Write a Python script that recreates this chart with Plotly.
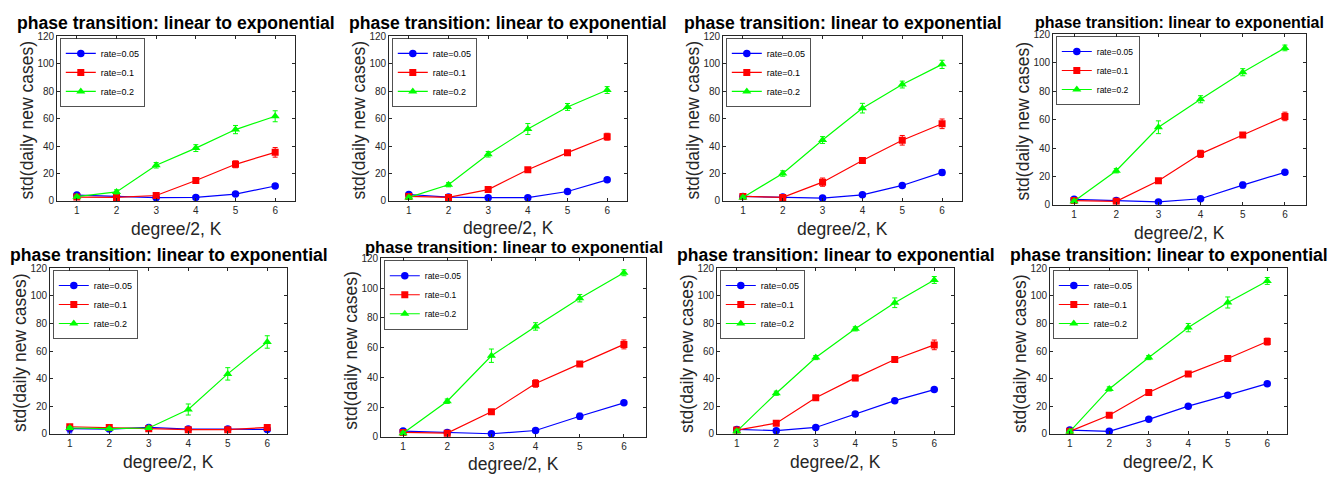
import plotly.graph_objects as go

# ---- data ----
K = [1, 2, 3, 4, 5, 6]
rate_labels = ["rate=0.05", "rate=0.1", "rate=0.2"]
title_text = "phase transition: linear to exponential"
xlabel = "degree/2, K"
ylabel = "std(daily new cases)"
y_ticks = [0, 20, 40, 60, 80, 100, 120]

# std values per panel (8 panels, row-major)
std_rate005 = [
    [4.3, 3.3, 2.4, 2.6, 5.0, 10.9],
    [4.7, 2.8, 2.4, 2.4, 6.9, 15.4],
    [3.3, 2.8, 2.1, 4.5, 11.3, 20.8],
    [3.9, 3.0, 2.1, 4.3, 13.9, 22.9],
    [3.8, 3.5, 4.7, 3.5, 3.5, 3.3],
    [3.9, 3.0, 2.1, 4.3, 13.9, 22.9],
    [3.3, 2.4, 4.7, 14.4, 24.1, 32.1],
    [2.8, 1.9, 10.6, 20.1, 28.1, 36.4],
]
std_rate01 = [
    [2.8, 2.6, 4.0, 14.9, 26.7, 35.4],
    [3.3, 2.6, 8.3, 22.7, 35.2, 46.8],
    [3.3, 2.6, 13.7, 29.5, 44.2, 56.2],
    [3.0, 2.5, 16.9, 35.9, 49.1, 62.2],
    [5.2, 4.7, 3.8, 3.1, 3.1, 4.7],
    [3.0, 2.5, 16.9, 35.9, 49.1, 62.2],
    [2.8, 7.8, 26.2, 40.6, 53.9, 64.5],
    [1.9, 13.5, 30.0, 43.5, 54.6, 66.9],
]
std_rate02 = [
    [3.1, 6.6, 26.0, 38.5, 52.0, 61.7],
    [2.6, 11.8, 34.0, 52.4, 68.5, 80.8],
    [2.6, 20.0, 44.4, 67.6, 84.8, 99.5],
    [2.5, 24.0, 54.6, 74.3, 93.3, 110.4],
    [4.3, 3.8, 4.3, 17.7, 43.5, 66.6],
    [2.5, 24.0, 54.6, 74.3, 93.3, 110.4],
    [1.9, 29.5, 55.3, 76.1, 95.0, 111.5],
    [1.7, 32.6, 55.3, 77.0, 95.2, 110.8],
]
err_rate005 = [
    [1.0, 0.8, 0.5, 0.5, 1.0, 1.5],
    [0.8, 0.5, 0.5, 0.5, 1.0, 1.5],
    [0.8, 0.5, 0.5, 1.0, 1.0, 2.0],
    [0.8, 0.5, 0.5, 1.0, 2.0, 1.0],
    [3.0, 0.8, 0.8, 0.8, 0.8, 1.0],
    [0.8, 0.5, 0.5, 1.0, 2.0, 1.0],
    [0.8, 0.5, 0.8, 1.0, 1.0, 1.0],
    [0.8, 0.5, 1.0, 1.0, 1.0, 1.0],
]
err_rate01 = [
    [0.8, 0.8, 1.0, 1.5, 2.5, 3.5],
    [0.8, 0.8, 1.0, 1.5, 1.5, 2.5],
    [0.8, 0.8, 3.0, 2.0, 3.5, 3.5],
    [0.8, 0.8, 1.5, 2.5, 1.5, 3.0],
    [1.0, 0.8, 0.8, 0.8, 0.8, 1.0],
    [0.8, 0.8, 1.5, 2.5, 1.5, 3.0],
    [0.8, 1.0, 1.5, 2.0, 2.0, 3.5],
    [0.8, 1.0, 1.0, 1.5, 1.0, 2.5],
]
err_rate02 = [
    [1.0, 1.5, 2.0, 2.5, 3.0, 4.0],
    [1.0, 1.5, 2.0, 4.0, 2.5, 2.5],
    [1.0, 2.0, 2.5, 3.5, 2.5, 3.0],
    [1.0, 1.5, 4.5, 2.5, 2.5, 2.0],
    [1.0, 0.8, 1.0, 4.0, 4.5, 4.5],
    [1.0, 1.5, 4.5, 2.5, 2.5, 2.0],
    [1.0, 1.5, 1.5, 1.5, 3.5, 2.5],
    [1.0, 1.5, 1.5, 3.0, 4.0, 2.5],
]

# ---- layout geometry (pixels) ----
W, H = 1332, 477
# left, right, top, bottom of each plot box
boxes = [
    (57, 295, 31, 200), (389, 627, 31, 200), (723, 962, 31, 200), (1053, 1306, 29, 204),
    (50, 287, 269, 439), (381, 646, 259, 442), (717, 954, 269, 439), (1050, 1287, 269, 439),
]
title_y = [17.5, 17.5, 17.5, 17, 255, 247.5, 255, 255]
title_size = [17.6, 17.6, 17.6, 16.0, 17.6, 16.5, 17.6, 17.6]
xlabel_gap = [29, 28, 29, 29, 29, 28, 29, 29]
legend_font = [9, 9, 9, 8.5, 9, 8.5, 9, 9]

colors = ["#0000FF", "#FF0000", "#00FF00"]
symbols = ["circle", "square", "triangle-up"]
msize = [7.5, 7, 8]
AX = "#262626"
FONT = "Liberation Sans, Arial, sans-serif"

def px(x):
    return x / W

def py(y):
    return 1 - y / H

fig = go.Figure()
annotations = []
layout = dict(
    width=W, height=H, margin=dict(l=0, r=0, t=0, b=0),
    paper_bgcolor="white", plot_bgcolor="white",
    font=dict(family=FONT, color=AX),
    showlegend=True,
)

series_sets = [(std_rate005, err_rate005), (std_rate01, err_rate01), (std_rate02, err_rate02)]

for i, (L, R, T, B) in enumerate(boxes):
    n = i + 1
    xa = "x" if n == 1 else f"x{n}"
    ya = "y" if n == 1 else f"y{n}"
    lg = "legend" if n == 1 else f"legend{n}"
    for s, (vals, errs) in enumerate(series_sets):
        fig.add_trace(go.Scatter(
            x=K, y=vals[i], xaxis=xa, yaxis=ya, legend=lg,
            name=rate_labels[s], mode="lines+markers",
            line=dict(color=colors[s], width=1.2),
            marker=dict(symbol=symbols[s], size=msize[s], color=colors[s],
                        line=dict(width=0)),
            error_y=dict(type="data", array=errs[i], color=colors[s],
                         thickness=1, width=2.5),
            showlegend=True,
        ))
    axkey = "xaxis" if n == 1 else f"xaxis{n}"
    aykey = "yaxis" if n == 1 else f"yaxis{n}"
    layout[axkey] = dict(
        domain=[px(L), px(R)], anchor=ya, range=[0.5, 6.5],
        tickvals=K, ticktext=[str(k) for k in K],
        ticks="inside", ticklen=3, tickcolor=AX, tickwidth=0.8,
        showline=True, linecolor=AX, linewidth=0.8, mirror="ticks",
        showgrid=False, zeroline=False,
        tickfont=dict(size=10, color=AX, family=FONT),
    )
    layout[aykey] = dict(
        domain=[py(B), py(T)], anchor=xa, range=[0, 120],
        tickvals=y_ticks, ticktext=[str(v) for v in y_ticks],
        ticks="inside", ticklen=3, tickcolor=AX, tickwidth=0.8,
        showline=True, linecolor=AX, linewidth=0.8, mirror="ticks",
        showgrid=False, zeroline=False,
        tickfont=dict(size=10, color=AX, family=FONT),
    )
    layout[lg] = dict(
        x=px(L + 3), y=py(T + 2), xanchor="left", yanchor="top",
        bgcolor="white", bordercolor=AX, borderwidth=0.8,
        font=dict(size=legend_font[i], color="#000000", family=FONT),
        tracegroupgap=0, itemwidth=30,
    )
    cx = (L + R) / 2
    annotations.append(dict(
        text=title_text, x=px(cx), y=py(title_y[i]), xref="paper", yref="paper",
        xanchor="center", yanchor="middle", showarrow=False, borderpad=0,
        font=dict(size=title_size[i], color="#000000", family=FONT, weight="bold"),
    ))
    annotations.append(dict(
        text=xlabel, x=px(cx), y=py(B + xlabel_gap[i]), xref="paper", yref="paper",
        xanchor="center", yanchor="middle", showarrow=False, borderpad=0,
        font=dict(size=17.5, color=AX, family=FONT),
    ))
    annotations.append(dict(
        text=ylabel, x=px(L - 30), y=py((T + B) / 2 + 2), xref="paper", yref="paper",
        xanchor="center", yanchor="middle", showarrow=False, textangle=-90, borderpad=0,
        font=dict(size=17.5, color=AX, family=FONT),
    ))

layout["annotations"] = annotations
fig.update_layout(**layout)
fig.write_html(
    "out.html",
    config={"displayModeBar": False},
    post_script="document.body.style.margin='0px';document.body.style.overflow='hidden';",
)
